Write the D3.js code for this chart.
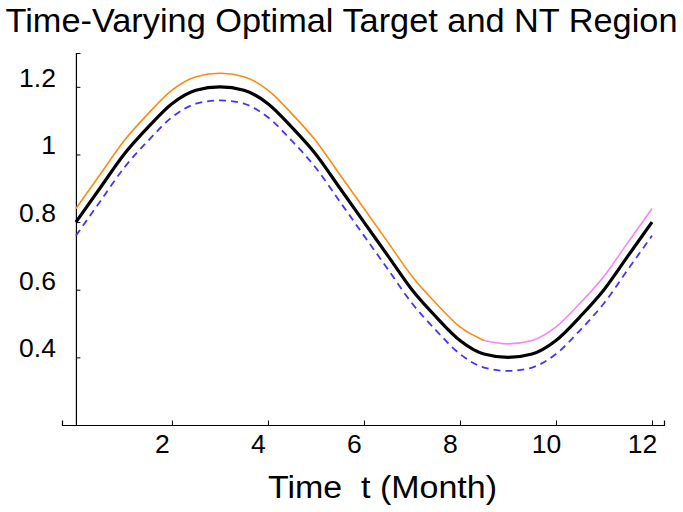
<!DOCTYPE html>
<html>
<head>
<meta charset="utf-8">
<script src="https://cdn.jsdelivr.net/npm/d3@7"></script>
<style>
  body { margin: 0; background: #fff; }
  text { font-family: "Liberation Sans", Arial, Helvetica, sans-serif; }
</style>
</head>
<body>
<div id="chart"></div>
<script>
// values, one point every half month
var months = [0, 0.5, 1, 1.5, 2, 2.5, 3, 3.5, 4, 4.5, 5, 5.5, 6, 6.5, 7, 7.5, 8, 8.5, 9, 9.5, 10, 10.5, 11, 11.5, 12]
var target = [0.80, 0.90, 1.00, 1.08, 1.15, 1.19, 1.20, 1.19, 1.15, 1.08, 1.00, 0.90, 0.80, 0.70, 0.60, 0.52, 0.45, 0.41, 0.40, 0.41, 0.45, 0.52, 0.60, 0.70, 0.80]
var upper  = [0.84, 0.94, 1.04, 1.12, 1.19, 1.23, 1.24, 1.23, 1.19, 1.12, 1.04, 0.94, 0.84, 0.74, 0.64, 0.56, 0.49, 0.45, 0.44, 0.45, 0.49, 0.56, 0.64, 0.74, 0.84]
var lower  = [0.76, 0.86, 0.96, 1.04, 1.11, 1.15, 1.16, 1.15, 1.11, 1.04, 0.96, 0.86, 0.76, 0.66, 0.56, 0.48, 0.41, 0.37, 0.36, 0.37, 0.41, 0.48, 0.56, 0.66, 0.76]
var upperSwitch = 8.5   // upper boundary turns from orange to pink here

var xMajor = [2, 4, 6, 8, 10, 12]
var xMinor = [1, 1.5, 2.5, 3, 3.5, 4.5, 5, 5.5, 6.5, 7, 7.5, 8.5, 9, 9.5, 10.5, 11, 11.5]
var xLabels = ["2", "4", "6", "8", "10", "12"]
var yMajor = [0.4, 0.6, 0.8, 1, 1.2]
var yMinor = [0.25, 0.3, 0.35, 0.45, 0.5, 0.55, 0.65, 0.7, 0.75, 0.85, 0.9, 0.95, 1.05, 1.1, 1.15, 1.25]
var yLabels = ["0.4", "0.6", "0.8", "1", "1.2"]

var title = "Time-Varying Optimal Target and NT Region"
var xTitle = "Time  t (Month)"

var width = 683, height = 512

var svg = d3.select("#chart").append("svg")
    .attr("width", width)
    .attr("height", height)

var x = d3.scaleLinear().domain([-0.29, 12.25]).range([62, 664])
var y = d3.scaleLinear().domain([0.2, 1.3]).range([425, 53])

// axes cross at (0, 0.2)
var xAxisMinor = d3.axisBottom(x).tickValues(xMinor).tickSize(-2.5).tickFormat("")
var xAxisMajor = d3.axisBottom(x).tickValues(xMajor).tickSize(-4.5).tickPadding(10)
    .tickFormat(function(d, i) { return xLabels[i] })
var yAxisMinor = d3.axisLeft(y).tickValues(yMinor).tickSize(-2.5).tickFormat("")
var yAxisMajor = d3.axisLeft(y).tickValues(yMajor).tickSize(-4.5).tickPadding(20)
    .tickFormat(function(d, i) { return yLabels[i] })

var gx = svg.append("g").attr("transform", "translate(0," + y(0.2) + ")")
gx.call(xAxisMinor)
gx.call(xAxisMajor)
var gy = svg.append("g").attr("transform", "translate(" + x(0) + ",0)")
gy.call(yAxisMinor)
gy.call(yAxisMajor)

svg.selectAll(".domain").attr("stroke", "#000").attr("stroke-width", 1.2)
svg.selectAll(".tick line").attr("stroke", "#000").attr("stroke-width", 1)
svg.selectAll(".tick text")
    .attr("fill", "#000")
    .style("font-size", "26.5px")
gx.selectAll(".tick text").attr("x", -10).attr("dy", "0.68em")
gy.selectAll(".tick text").attr("y", -9)

var line = d3.line()
    .curve(d3.curveMonotoneX)
    .x(function(d) { return x(d[0]) })
    .y(function(d) { return y(d[1]) })

function pts(vals, from, to) {
  var out = []
  months.forEach(function(t, i) {
    if (t >= from && t <= to) out.push([t, vals[i]])
  })
  return out
}

var curves = svg.append("g").attr("fill", "none")

curves.append("path")
    .attr("d", line(pts(lower, 0, 12)))
    .attr("stroke", "#4433ff")
    .attr("stroke-width", 1.8)
    .attr("stroke-dasharray", "7,5")

curves.append("path")
    .attr("d", line(pts(upper, 0, upperSwitch)))
    .attr("stroke", "#ff8a10")
    .attr("stroke-width", 1.6)

curves.append("path")
    .attr("d", line(pts(upper, upperSwitch, 12)))
    .attr("stroke", "#ff80ff")
    .attr("stroke-width", 1.6)

curves.append("path")
    .attr("d", line(pts(target, 0, 12)))
    .attr("stroke", "#000")
    .attr("stroke-width", 3.2)
    .attr("stroke-linejoin", "round")

svg.append("text")
    .attr("x", 341.5)
    .attr("y", 32)
    .attr("text-anchor", "middle")
    .attr("textLength", 672)
    .attr("lengthAdjust", "spacingAndGlyphs")
    .style("font-size", "33px")
    .text(title)

svg.append("text")
    .attr("x", 382.5)
    .attr("y", 498)
    .attr("text-anchor", "middle")
    .attr("textLength", 229)
    .attr("lengthAdjust", "spacingAndGlyphs")
    .style("font-size", "31px")
    .style("white-space", "pre")
    .text(xTitle)
</script>
</body>
</html>
